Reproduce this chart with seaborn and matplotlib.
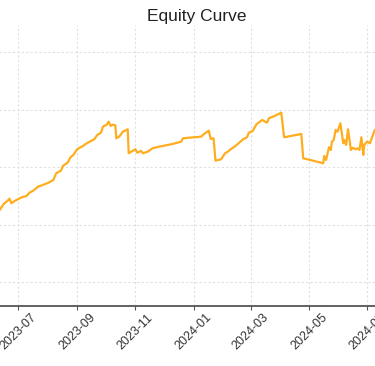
import pandas as pd
import matplotlib
matplotlib.use("Agg")
import matplotlib.pyplot as plt
import matplotlib.dates as mdates
import seaborn as sns

# equity curve
dates = [
    "2023-06-10", "2023-06-16", "2023-06-21", "2023-06-22", "2023-06-24", "2023-06-28",
    "2023-07-05", "2023-07-10", "2023-07-13", "2023-07-17", "2023-07-22", "2023-07-27",
    "2023-08-02", "2023-08-07", "2023-08-10", "2023-08-15", "2023-08-17", "2023-08-22",
    "2023-08-25", "2023-08-28", "2023-09-01", "2023-09-07", "2023-09-11", "2023-09-19",
    "2023-09-22", "2023-09-26", "2023-09-28", "2023-10-02", "2023-10-04", "2023-10-06",
    "2023-10-08", "2023-10-11", "2023-10-12", "2023-10-15", "2023-10-19", "2023-10-24",
    "2023-10-25", "2023-10-29", "2023-11-01", "2023-11-03", "2023-11-07", "2023-11-09",
    "2023-11-14", "2023-11-19", "2023-11-26", "2023-12-10", "2023-12-19", "2023-12-21",
    "2024-01-09", "2024-01-12", "2024-01-17", "2024-01-19", "2024-01-22", "2024-01-24",
    "2024-01-30", "2024-02-03", "2024-02-06", "2024-02-09", "2024-02-13", "2024-02-18",
    "2024-02-22", "2024-02-26", "2024-02-28", "2024-03-03", "2024-03-07", "2024-03-13",
    "2024-03-16", "2024-03-18", "2024-03-20", "2024-03-26", "2024-04-02", "2024-04-05",
    "2024-04-23", "2024-04-25", "2024-05-16", "2024-05-17", "2024-05-19", "2024-05-22",
    "2024-05-24", "2024-05-25", "2024-05-27", "2024-05-29", "2024-05-31", "2024-06-03",
    "2024-06-06", "2024-06-07", "2024-06-09", "2024-06-11", "2024-06-14", "2024-06-16",
    "2024-06-19", "2024-06-21", "2024-06-23", "2024-06-25", "2024-06-27", "2024-06-28",
    "2024-07-01", "2024-07-04", "2024-07-09", "2024-07-14",
]
equity = [
    10435, 10730, 10870, 10915, 10755, 10845,
    10963, 11009, 11123, 11193, 11332, 11391,
    11471, 11565, 11798, 11889, 12052, 12167,
    12355, 12435, 12633, 12748, 12842, 12981,
    13130, 13210, 13419, 13488, 13593, 13443,
    13488, 13467, 13015, 13071, 13245, 13328,
    12494, 12574, 12633, 12515, 12574, 12494,
    12549, 12668, 12723, 12817, 12897, 13015,
    13071, 13165, 13280, 12991, 13015, 12236,
    12285, 12494, 12549, 12633, 12723, 12862,
    12981, 13050, 13210, 13269, 13502, 13652,
    13593, 13558, 13711, 13791, 13906, 13050,
    13165, 12320, 12146, 12400, 12261, 12702,
    12609, 12887, 12956, 13304, 13245, 13537,
    12842, 12956, 12782, 13328, 12609, 12688,
    12633, 12668, 12609, 13050, 12435, 12782,
    12897, 12842, 13304, 13373,
]
y_grid = [8000, 10000, 12000, 14000, 16000]

df = pd.DataFrame({"date": pd.to_datetime(dates), "equity": equity})

sns.set_style("whitegrid")
plt.rcParams["font.family"] = ["Liberation Sans", "DejaVu Sans"]

fig = plt.figure(figsize=(3.75, 3.66), dpi=100)
# the reference is a crop of a wider chart, so the axes run past the figure edges
ax = fig.add_axes([-0.107, 0.164, 1.264, 0.768])

sns.lineplot(data=df, x="date", y="equity", ax=ax, color="#FFAD1F", linewidth=1.6)

ax.set_xlim(pd.Timestamp("2023-05-01"), pd.Timestamp("2024-09-09"))
ax.set_ylim(7180, 16960)
ax.set_yticks(y_grid)
ax.xaxis.set_major_locator(mdates.MonthLocator(bymonth=[1, 3, 5, 7, 9, 11]))
ax.xaxis.set_major_formatter(mdates.DateFormatter("%Y-%m"))
plt.setp(ax.get_xticklabels(), rotation=45, ha="center")

ax.grid(True, color="#e0e0e0", linestyle=(0, (2, 2)), linewidth=0.8)
for side in ["top", "right", "left"]:
    ax.spines[side].set_visible(False)
ax.spines["bottom"].set_color("#555555")
ax.spines["bottom"].set_linewidth(1.3)
ax.tick_params(axis="x", bottom=True, length=3, width=0.8, color="#555555",
               labelsize=9, labelcolor="#333333", pad=1)
ax.set_xlabel("")
ax.set_ylabel("")
ax.set_title("Equity Curve", fontsize=12.5, color="#222222", pad=3)

fig.savefig("out.png", dpi=100)
